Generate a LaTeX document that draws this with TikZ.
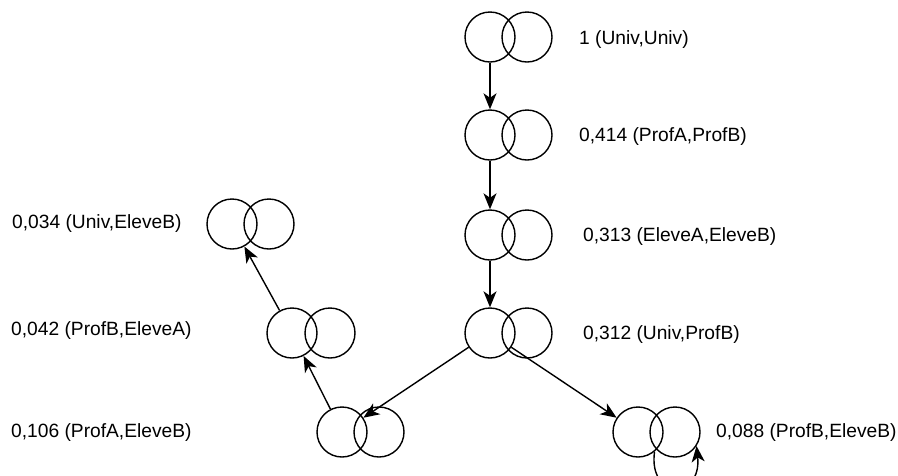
\documentclass[tikz,border=0pt]{standalone}
\usepackage{fontspec}
\setmainfont{Liberation Sans}
\usetikzlibrary{arrows.meta}
\begin{document}
\begin{tikzpicture}[x=1pt,y=-1pt,
  ring/.style={draw=black,line width=1.4pt,circle,minimum size=50pt,inner sep=0pt},
  edge/.style={line width=1.4pt,-{Stealth[length=16pt,width=13pt,inset=4.5pt]}},
  lbl/.style={anchor=west,inner sep=0pt,font=\fontsize{19.2}{23}\selectfont}]
\useasboundingbox (0,0) rectangle (898,475);
% left circles (graph nodes) and their right partners
\node[ring] (A) at (490,37) {};  \node[ring] (Ar) at (527,37) {};
\node[ring] (B) at (490,135) {}; \node[ring] (Br) at (527,135) {};
\node[ring] (C) at (490,235) {}; \node[ring] (Cr) at (527,235) {};
\node[ring] (D) at (490,333) {}; \node[ring] (Dr) at (527,333) {};
\node[ring] (E) at (342,432) {}; \node[ring] (Er) at (379,432) {};
\node[ring] (F) at (638,432) {}; \node[ring] (Fr) at (675,432) {};
\node[ring] (G) at (292,333) {}; \node[ring] (Gr) at (330,333) {};
\node[ring] (H) at (232,224) {}; \node[ring] (Hr) at (269,224) {};
% labels
\node[lbl] (lA) at (579,40) {1 (Univ,Univ)};
\node[lbl] (lB) at (579,137) {0,414 (ProfA,ProfB)};
\node[lbl] (lC) at (583,237) {0,313 (EleveA,EleveB)};
\node[lbl] (lD) at (583,335) {0,312 (Univ,ProfB)};
\node[lbl] (lF) at (716,433) {0,088 (ProfB,EleveB)};
\node[lbl] (lH) at (12,224) {0,034 (Univ,EleveB)};
\node[lbl] (lG) at (11,331) {0,042 (ProfB,EleveA)};
\node[lbl] (lE) at (11,433) {0,106 (ProfA,EleveB)};
% connectors
\draw[edge] (A) -- (B);
\draw[edge] (B) -- (C);
\draw[edge] (C) -- (D);
\draw[edge] (D) -- (E);
\draw[edge] (D) -- (F);
\draw[edge] (E) -- (G);
\draw[edge] (G) -- (H);
\draw[edge] (F.-50) .. controls (648,500) and (702,500) .. (Fr.-33);
\end{tikzpicture}
\end{document}
